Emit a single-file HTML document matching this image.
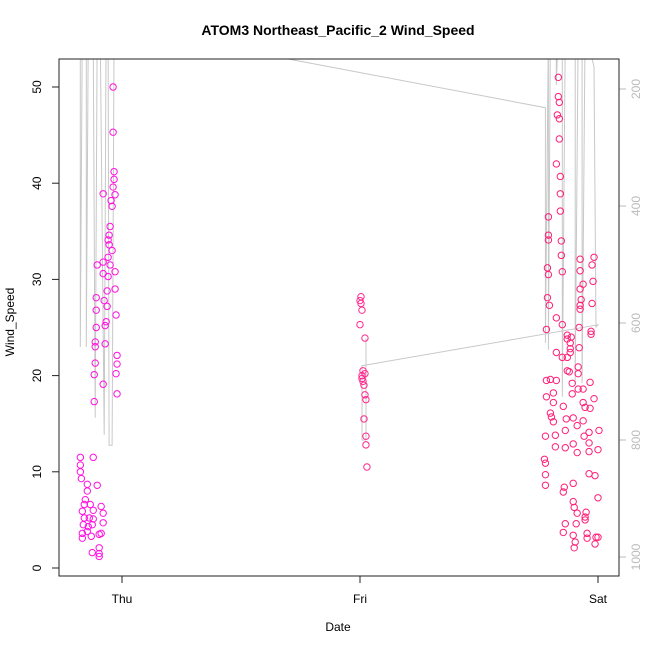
<!DOCTYPE html>
<html><head><meta charset="utf-8"><style>
body{margin:0;background:#fff}
svg{display:block;font-family:"Liberation Sans",Arial,sans-serif}
</style></head><body>
<svg id="chart" width="650" height="650">
<text x="338" y="35" text-anchor="middle" font-size="14" font-weight="bold">ATOM3 Northeast_Pacific_2 Wind_Speed</text>
<text x="338" y="631" text-anchor="middle" font-size="12">Date</text>
<text transform="translate(14,322) rotate(-90)" text-anchor="middle" font-size="12">Wind_Speed</text>
<defs><clipPath id="clip"><rect x="59" y="59" width="560" height="517"/></clipPath></defs>
<g id="depth" clip-path="url(#clip)"></g>
<g id="pts"></g>
<g id="axes"></g>
<rect x="59" y="59" width="560" height="517" fill="none" stroke="#222" stroke-width="1"/>
</svg>
<script>
// hours since Thu 00:00, wind speed
const thuHours=[-0.9,-0.9,-0.8,-0.8,-0.9,-1.9,-0.7,-1.1,-1.0,-1.2,-1.3,-1.4,-1.3,-1.0,-1.4,-2.5,-1.9,-1.2,-1.9,-1.4,-0.7,-1.5,-0.7,-2.6,-1.8,-1.5,-2.6,-0.6,-1.6,-2.6,-1.7,-2.7,-1.7,-2.7,-0.5,-2.7,-0.5,-2.8,-0.6,-1.9,-0.5,-2.8,-4.2,-2.9,-4.2,-4.2,-4.1,-3.5,-2.5,-3.5,-3.7,-3.8,-3.2,-2.1,-4.0,-2.9,-1.9,-3.8,-3.3,-2.9,-1.9,-3.9,-3.4,-3.0,-4.0,-3.5,-3.1,-2.1,-4.0,-2.3,-3.0,-2.3,-2.3,-2.3];
const thuSpeed=[50,45.3,41.2,40.4,39.6,38.9,38.8,38.2,37.6,35.5,34.6,34.1,33.6,33.0,32.3,31.5,31.8,31.5,30.6,30.3,30.8,28.8,29.0,28.1,27.8,27.2,26.8,26.3,25.6,25.0,25.2,23.5,23.3,23.0,22.1,21.3,21.2,20.1,20.2,19.1,18.1,17.3,11.5,11.5,10.7,10.0,9.3,8.7,8.6,8.0,7.1,6.6,6.6,6.4,5.9,6.0,5.7,5.2,5.2,5.1,4.7,4.5,4.3,4.5,3.6,3.8,3.3,3.6,3.1,3.5,1.6,1.5,2.1,1.2];
const friHours=[24.1,24.0,24.1,24.2,24.0,24.5,24.3,24.5,24.2,24.2,24.3,24.4,24.5,24.6,24.4,24.6,24.6,24.7];
const friSpeed=[28.2,27.8,27.5,26.8,25.3,23.9,20.5,20.2,20.0,19.7,19.4,19.0,18.0,17.5,15.5,13.7,12.8,10.5];
const satHours=[44.0,44.0,44.1,43.9,44.1,44.1,43.8,44.2,44.2,44.2,43.0,43.0,43.0,44.3,44.3,44.4,42.9,43.0,46.2,47.6,46.2,47.4,47.5,46.5,46.2,42.9,43.1,46.3,46.2,46.2,47.4,43.8,44.4,42.8,46.1,47.3,47.3,44.9,45.3,44.9,45.2,45.2,43.8,45.2,44.4,44.9,46.1,44.9,45.1,46.0,46.0,42.8,43.2,43.8,45.4,47.2,43.5,46.0,46.5,45.4,42.8,47.6,43.5,46.5,46.7,47.2,44.5,43.2,43.3,43.5,44.8,45.5,46.5,45.9,42.7,43.7,44.7,46.6,47.1,48.1,47.1,43.7,44.7,45.5,45.9,47.1,48.0,42.6,42.7,42.7,42.7,44.6,44.5,45.5,47.1,47.7,48.0,45.5,45.6,45.9,46.8,46.7,46.7,44.7,45.8,44.5,45.5,45.7,45.6,46.9,46.9,47.8,48.0,47.7];
const satSpeed=[51,49,48.4,47.1,46.7,44.6,42.0,40.7,38.9,37.1,36.5,34.6,34.1,34.0,32.5,30.8,31.2,30.5,32.1,32.3,30.9,31.5,29.8,29.5,29.0,28.1,27.3,27.9,27.3,26.9,27.5,26.0,25.3,24.8,25.0,24.6,24.3,24.2,24.0,23.8,23.4,22.8,22.4,22.4,21.9,21.9,22.9,20.5,20.4,20.9,20.2,19.5,19.6,19.5,19.2,19.3,18.2,18.6,18.6,18.1,17.8,17.6,17.2,17.2,16.7,16.6,16.8,16.1,15.7,15.2,15.5,15.6,15.3,14.8,13.7,13.8,14.3,13.7,14.1,14.3,13.0,12.6,12.5,12.9,12.0,12.1,12.3,11.3,10.9,9.7,8.6,8.4,7.9,8.8,9.8,9.6,7.3,6.9,6.3,5.7,5.8,5.3,5.0,4.6,4.6,3.7,3.4,2.7,2.1,3.6,3.1,3.2,3.2,2.5];
// depth series (right axis, reversed)
const depthHours=[-4.2,-4.2,-4.0,-3.6,-3.6,-3.4,-2.9,-2.7,-2.5,-2.2,-1.8,-1.6,-1.4,-1.3,-1.0,-0.8,-0.6,16.9,42.7,42.7,43.0,43.0,43.2,43.8,43.8,44.0,44.4,44.4,44.7,45.7,45.7,46.0,46.4,46.4,46.7,47.6,47.8,48.0,24.2,24.2,24.6,24.6];
const depthValues=[100,641,100,100,641,100,100,762,100,100,791,100,100,809,809,100,100,149,232,634,100,646,100,100,193,100,100,726,100,100,703,100,100,703,100,162,607,603,673,800,800,626];
const yTicks=[0,10,20,30,40,50];
const depthTicks=[200,400,600,800,1000];
const xTickHours=[0,24,48];
const xTickLabels=["Thu","Fri","Sat"];

const NS="http://www.w3.org/2000/svg";
const X=h=>122+h*(598-122)/48;
const Y=v=>568-v*(568-87)/50;
const D=d=>89+(d-200)*0.585;
function mk(tag,attrs,parent){const e=document.createElementNS(NS,tag);for(const k in attrs)e.setAttribute(k,attrs[k]);parent.appendChild(e);return e;}

const dg=document.getElementById('depth');
let pts=depthHours.map((h,i)=>X(h).toFixed(1)+','+D(depthValues[i]).toFixed(1)).join(' ');
const pl=mk('polyline',{points:pts,fill:'none',stroke:'#c8c8c8','stroke-width':1},dg);



const pg=document.getElementById('pts');
function drawSet(hs,vs,color,name){
  hs.forEach((h,i)=>{
    const c=mk('circle',{cx:X(h),cy:Y(vs[i]),r:3.2,fill:'none',stroke:color,'stroke-width':1},pg);
    
    
  });
}
drawSet(thuHours,thuSpeed,'#ff10e0','thu-point');
drawSet(friHours,friSpeed,'#ff2a90','fri-point');
drawSet(satHours,satSpeed,'#ff1f78','sat-point');

const ag=document.getElementById('axes');
yTicks.forEach(v=>{
  const t=mk('line',{x1:52,x2:59,y1:Y(v),y2:Y(v),stroke:'#222'},ag);
  
  
  const l=mk('text',{transform:`translate(41,${Y(v)}) rotate(-90)`,'text-anchor':'middle','font-size':12},ag);
  l.textContent=v;
  
  
});
depthTicks.forEach(v=>{
  const t=mk('line',{x1:619,x2:626,y1:D(v),y2:D(v),stroke:'#bbb'},ag);
  
  
  const l=mk('text',{transform:`translate(640,${D(v)}) rotate(-90)`,'text-anchor':'middle','font-size':12,fill:'#bbb'},ag);
  l.textContent=v;
  
  
});
xTickHours.forEach((h,i)=>{
  const t=mk('line',{x1:X(h),x2:X(h),y1:576,y2:583,stroke:'#222'},ag);
  
  
  const l=mk('text',{x:X(h),y:603,'text-anchor':'middle','font-size':12},ag);
  l.textContent=xTickLabels[i];
  
  
});
</script>
</body></html>
